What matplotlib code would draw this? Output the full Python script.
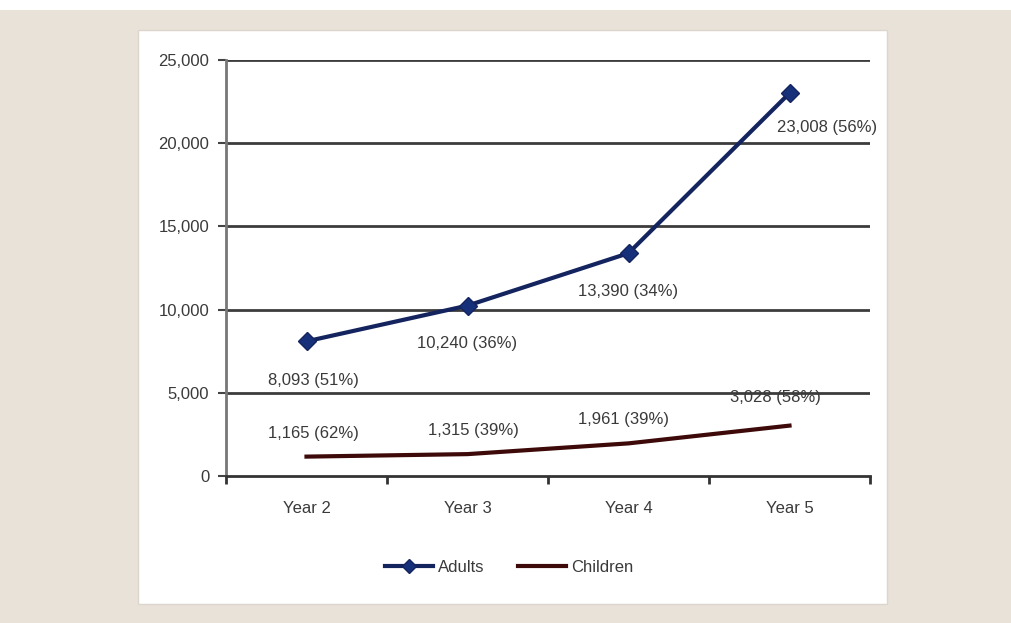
import matplotlib.pyplot as plt
from matplotlib.patches import Rectangle
from matplotlib.font_manager import fontManager
import numpy as np

# data
years = ['Year 2', 'Year 3', 'Year 4', 'Year 5']
adults = [8093, 10240, 13390, 23008]
adultsPct = [51, 36, 34, 56]
children = [1165, 1315, 1961, 3028]
childrenPct = [62, 39, 39, 58]
yTicks = [0, 5000, 10000, 15000, 20000, 25000]

names = [f.name for f in fontManager.ttflist]
if 'Liberation Sans Narrow' in names:
    plt.rcParams['font.family'] = ['Liberation Sans Narrow', 'DejaVu Sans']
else:
    plt.rcParams['font.family'] = ['Liberation Sans', 'DejaVu Sans']

textCol = '#3a3a3a'
adultCol = '#13245f'
childCol = '#3d0909'
fs = 12

fig = plt.figure(figsize=(10.11, 6.23), dpi=100)
fig.patch.set_facecolor('#e9e2d9')
# white strip on top and the white card (drawn under the axes)
fig.patches.append(Rectangle((0, 1 - 10/623), 1, 10/623, transform=fig.transFigure,
                             facecolor='white', edgecolor='none', zorder=-2))
fig.patches.append(Rectangle((138/1011, 1 - 604/623), (887 - 138)/1011, (604 - 30)/623,
                             transform=fig.transFigure, facecolor='white',
                             edgecolor='#dcd6cc', linewidth=1, zorder=-2))

ax = fig.add_axes([226/1011, 1 - 476/623, (870 - 226)/1011, (476 - 60)/623])
ax.set_facecolor('none')

x = np.arange(len(years))
ax.plot(x, adults, color=adultCol, linewidth=3, marker='D', markersize=9,
        markerfacecolor='#17307a', markeredgecolor=adultCol, label='Adults', zorder=4)
ax.plot(x, children, color=childCol, linewidth=3, label='Children', zorder=4)

# point labels (offsets in pixels)
adultOff = [(7, -39), (0, -38), (0, -38), (38, -34)]
childOff = [(7, 23), (6, 24), (-5, 24), (-14, 28)]
for i in range(len(years)):
    ax.annotate('{:,} ({}%)'.format(adults[i], adultsPct[i]), (x[i], adults[i]),
                xytext=adultOff[i], textcoords='offset pixels', ha='center', va='center',
                fontsize=fs, color=textCol, zorder=5)
    ax.annotate('{:,} ({}%)'.format(children[i], childrenPct[i]), (x[i], children[i]),
                xytext=childOff[i], textcoords='offset pixels', ha='center', va='center',
                fontsize=fs, color=textCol, zorder=5)

ax.set_xlim(-0.5, 3.5)
ax.set_ylim(0, 25000)
ax.set_yticks(yTicks)
ax.set_yticklabels(['{:,}'.format(v) for v in yTicks], fontsize=fs, color=textCol)
ax.set_xticks(x)
ax.set_xticklabels(years, fontsize=fs, color=textCol)
ax.set_xticks(np.arange(-0.5, 4, 1), minor=True)
ax.tick_params(axis='x', which='major', length=0, pad=18)
ax.tick_params(axis='x', which='minor', length=6, width=2, color='#333333', direction='out')
ax.tick_params(axis='y', length=6, width=1.5, color='#444444', pad=6)

for v in yTicks[1:]:
    ax.axhline(v, color='#3c3c3c', linewidth=2, zorder=1)

for s in ['top', 'right']:
    ax.spines[s].set_visible(False)
ax.spines['left'].set_color('#777777')
ax.spines['left'].set_linewidth(2)
ax.spines['bottom'].set_color('#333333')
ax.spines['bottom'].set_linewidth(2)

leg = ax.legend(loc='center', bbox_to_anchor=(0.44, -0.22), ncol=2, frameon=False,
                fontsize=fs, handlelength=2.9, columnspacing=2.0, handletextpad=0.3,
                markerscale=0.8)
for t in leg.get_texts():
    t.set_color(textCol)

fig.savefig('out.png', dpi=100, facecolor=fig.get_facecolor())
